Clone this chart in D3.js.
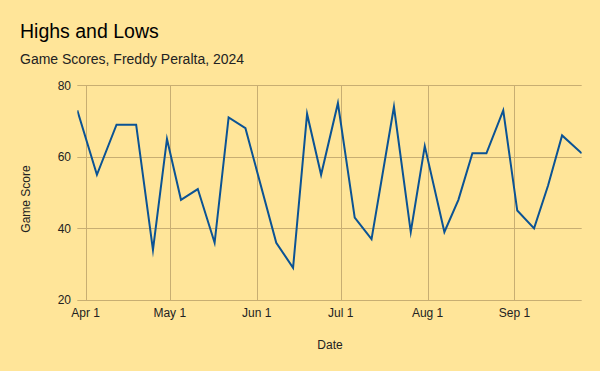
<!DOCTYPE html>
<html><head><meta charset="utf-8">
<script src="https://cdn.jsdelivr.net/npm/d3@7"></script>
<style>
html,body{margin:0;padding:0;background:#ffe599;}
svg{display:block;font-family:"Liberation Sans",Arial,sans-serif;}
</style></head>
<body>
<svg id="chart" width="600" height="371"></svg>
<script>
const dates = ["2024-03-29","2024-04-05","2024-04-12","2024-04-19","2024-04-25","2024-04-30","2024-05-05","2024-05-11","2024-05-17","2024-05-22","2024-05-28","2024-06-08","2024-06-14","2024-06-19","2024-06-24","2024-06-30","2024-07-06","2024-07-12","2024-07-20","2024-07-26","2024-07-31","2024-08-07","2024-08-12","2024-08-17","2024-08-22","2024-08-28","2024-09-02","2024-09-08","2024-09-13","2024-09-18","2024-09-25"];
const gameScores = [73,55,69,69,34,65,48,51,36,71,68,36,29,72,55,75,43,37,74,39,63,39,48,61,61,73,45,40,52,66,61];
const yTicks = [20,40,60,80];
const xTickDates = ["2024-04-01","2024-05-01","2024-06-01","2024-07-01","2024-08-01","2024-09-01"];
const xTickLabels = ["Apr 1","May 1","Jun 1","Jul 1","Aug 1","Sep 1"];
const title = "Highs and Lows";
const subtitle = "Game Scores, Freddy Peralta, 2024";
const xTitle = "Date";
const yTitle = "Game Score";

(function(){
const parse = d3.utcParse("%Y-%m-%d");
const data = dates.map((d,i)=>({date:parse(d), v:gameScores[i]}));
const svg = d3.select("#chart");
const bg = "#ffe599", grid = "#c8ae72", lineColor = "#0b5394";
svg.append("rect").attr("width",600).attr("height",371).attr("fill",bg);

const pL = 77.3, pR = 581.7, pT = 85.3, pB = 300;
const x = d3.scaleUtc().domain(d3.extent(data,d=>d.date)).range([pL,pR]);
const y = d3.scaleLinear().domain([20,80]).range([pB,pT]);

svg.append("g").selectAll("line").data(yTicks).join("line")
  .attr("x1",pL).attr("x2",pR)
  .attr("y1",d=>Math.round(y(d))+0.5).attr("y2",d=>Math.round(y(d))+0.5)
  .attr("stroke",grid).attr("stroke-width",1);
const xt = xTickDates.map(parse);
svg.append("g").selectAll("line").data(xt).join("line")
  .attr("x1",d=>Math.round(x(d))+0.5).attr("x2",d=>Math.round(x(d))+0.5)
  .attr("y1",pT).attr("y2",pB)
  .attr("stroke",grid).attr("stroke-width",1);

svg.append("g").selectAll("text").data(yTicks).join("text")
  .attr("x",71).attr("y",d=>y(d)).attr("dy","0.35em")
  .attr("text-anchor","end").attr("font-size",12).attr("fill","#222")
  .text(d=>d);
svg.append("g").selectAll("text").data(xt).join("text")
  .attr("x",d=>x(d)).attr("y",317)
  .attr("text-anchor","middle").attr("font-size",12).attr("fill","#222")
  .text((d,i)=>xTickLabels[i]);

svg.append("clipPath").attr("id","plotclip").append("rect")
  .attr("x",pL).attr("y",0).attr("width",pR-pL).attr("height",371);
svg.append("path").datum(data)
  .attr("clip-path","url(#plotclip)")
  .attr("fill","none").attr("stroke",lineColor).attr("stroke-width",2)
  .attr("stroke-linejoin","miter").attr("stroke-miterlimit",20)
  .attr("d",d3.line().x(d=>x(d.date)).y(d=>y(d.v)));

svg.append("text").attr("x",20).attr("y",37.5).attr("font-size",19.5).attr("fill","#000").text(title);
svg.append("text").attr("x",20).attr("y",63.5).attr("font-size",14).attr("fill","#222").text(subtitle);
svg.append("text").attr("x",330).attr("y",349).attr("text-anchor","middle").attr("font-size",12).attr("fill","#222").text(xTitle);
svg.append("text").attr("transform","translate(30,199) rotate(-90)").attr("text-anchor","middle").attr("font-size",12).attr("fill","#222").text(yTitle);
})();
</script>
</body></html>
